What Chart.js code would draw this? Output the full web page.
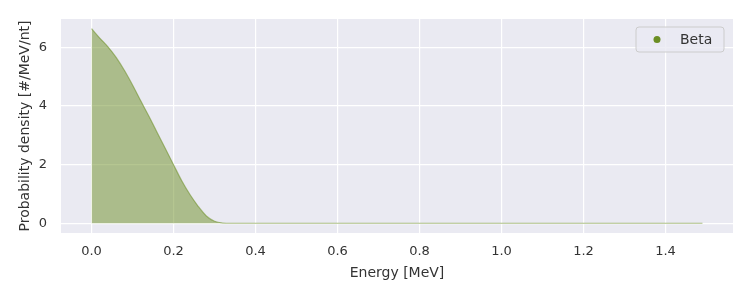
<!DOCTYPE html>
<html>
<head>
<meta charset="utf-8">
<script src="https://cdn.jsdelivr.net/npm/chart.js@4"></script>
<style>
  html, body { margin: 0; padding: 0; background: #fff; }
  #wrap { width: 750px; height: 300px; }
</style>
</head>
<body>
<div id="wrap"><canvas id="betaChart" width="750" height="300"></canvas></div>
<script>
// energy grid [MeV] and probability density
const energy  = [0.00, 0.02, 0.04, 0.06, 0.08, 0.10, 0.12, 0.14, 0.16, 0.18, 0.20, 0.22, 0.24, 0.26, 0.28, 0.30, 0.32, 0.34, 1.49];
const density = [6.64, 6.32, 6.02, 5.66, 5.22, 4.72, 4.18, 3.65, 3.10, 2.55, 2.00, 1.45, 0.98, 0.58, 0.25, 0.07, 0.01, 0.00, 0.00];
const xTicks = [0.0, 0.2, 0.4, 0.6, 0.8, 1.0, 1.2, 1.4];
const yTicks = [0, 2, 4, 6];
const seriesLabel = 'Beta';

const FONT = 'DejaVu Sans';
const TEXT = '#333333';

// seaborn style plot background
const bgPlugin = {
  id: 'plotBg',
  beforeDraw(chart) {
    const { ctx, chartArea: a } = chart;
    ctx.save();
    ctx.fillStyle = '#EAEAF2';
    ctx.fillRect(a.left, a.top, a.right - a.left, a.bottom - a.top);
    ctx.restore();
  }
};

// matplotlib-like legend box
const legendPlugin = {
  id: 'boxLegend',
  afterDraw(chart) {
    const { ctx, chartArea: a } = chart;
    const w = 88, h = 25;
    const x = a.right - 9 - w, y = a.top + 8;
    ctx.save();
    ctx.beginPath();
    ctx.roundRect(x, y, w, h, 3);
    ctx.fillStyle = 'rgba(234,234,242,0.8)';
    ctx.fill();
    ctx.strokeStyle = '#cccccc';
    ctx.lineWidth = 1;
    ctx.stroke();
    ctx.beginPath();
    ctx.arc(x + 21, y + h / 2, 3.5, 0, Math.PI * 2);
    ctx.fillStyle = '#6B8E23';
    ctx.fill();
    ctx.fillStyle = TEXT;
    ctx.font = '14px "' + FONT + '"';
    ctx.textBaseline = 'middle';
    ctx.fillText(seriesLabel, x + 44, y + h / 2 + 1);
    ctx.restore();
  }
};

const xMin = -0.0745, xMax = 1.5645;
const yMin = -0.332, yMax = 6.97;

const ctx = document.getElementById('betaChart').getContext('2d');
const betaChart = new Chart(ctx, {
  type: 'line',
  data: {
    datasets: [{
      label: seriesLabel,
      data: energy.map((e, i) => ({ x: e, y: density[i] })),
      borderColor: 'rgba(107,142,35,0.55)',
      backgroundColor: 'rgba(107,142,35,0.5)',
      borderWidth: 1.2,
      pointRadius: 0,
      fill: 'origin',
      tension: 0.3,
      cubicInterpolationMode: 'monotone'
    }]
  },
  options: {
    responsive: false,
    animation: false,
    layout: { padding: { left: 17, right: 17, top: 19, bottom: 0 } },
    scales: {
      x: {
        type: 'linear',
        min: xMin,
        max: xMax,
        afterBuildTicks: s => { s.ticks = xTicks.map(v => ({ value: v })); },
        afterFit: s => { s.height = 67; },
        grid: { color: '#ffffff', lineWidth: 1.2, drawTicks: false },
        border: { display: false },
        ticks: {
          color: TEXT, font: { family: FONT, size: 13 }, padding: 11,
          callback: v => v.toFixed(1)
        },
        title: {
          display: true, text: 'Energy [MeV]', color: TEXT,
          font: { family: FONT, size: 14 }, padding: { top: 0, bottom: 18 }
        }
      },
      y: {
        type: 'linear',
        min: yMin,
        max: yMax,
        afterBuildTicks: s => { s.ticks = yTicks.map(v => ({ value: v })); },
        afterFit: s => { s.width = 44; s.paddingTop = 0; s.paddingBottom = 0; },
        grid: { color: '#ffffff', lineWidth: 1.2, drawTicks: false },
        border: { display: false },
        ticks: {
          color: TEXT, font: { family: FONT, size: 13 }, padding: 14,
          callback: v => String(v)
        },
        title: {
          display: true, text: 'Probability density [#/MeV/nt]', color: TEXT,
          font: { family: FONT, size: 14 }, padding: 0
        }
      }
    },
    plugins: { legend: { display: false }, tooltip: { enabled: false } }
  },
  plugins: [bgPlugin, legendPlugin]
});
</script>
</body>
</html>
